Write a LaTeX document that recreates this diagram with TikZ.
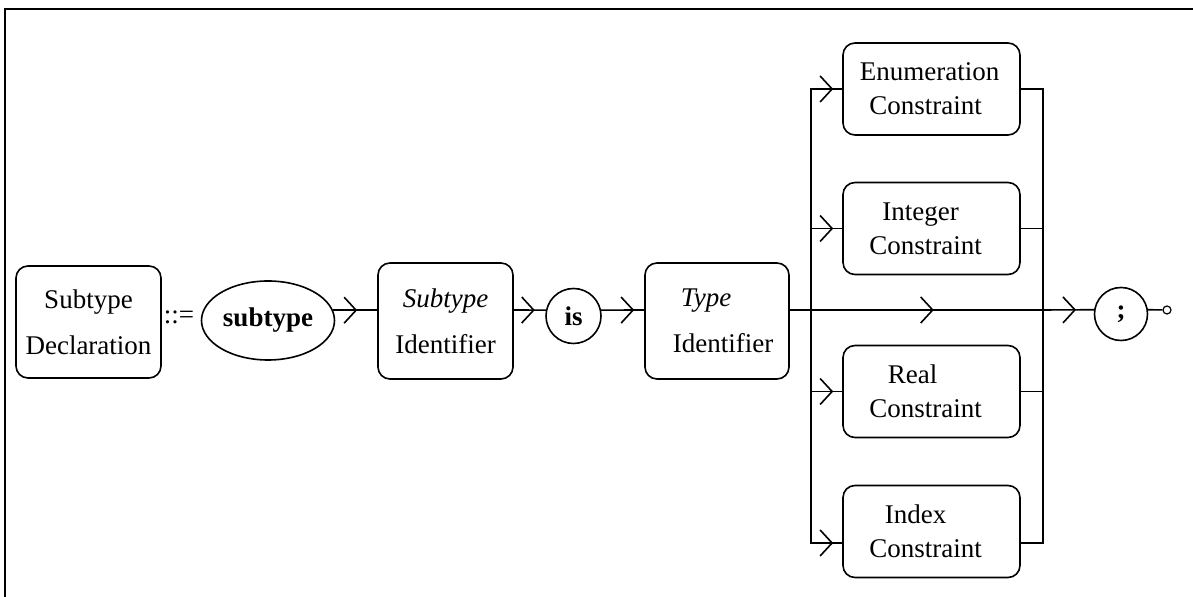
\documentclass[tikz,border=0pt]{standalone}
\usepackage{fontspec}
\setmainfont{Liberation Serif}
\usetikzlibrary{arrows.meta,decorations.markings,shapes.geometric}

\begin{document}
\begin{tikzpicture}[x=0.5pt,y=-0.5pt,line width=0.8pt,
    defbox/.style={draw, rounded corners=6pt, align=center, inner sep=0pt, font=\fontsize{13.5}{23}\selectfont},
    consbox/.style={draw, rounded corners=6pt, align=center, inner sep=0pt, minimum width=88.5pt, minimum height=46pt, font=\fontsize{13.5}{17}\selectfont},
    keynode/.style={draw, ellipse, inner sep=0pt, minimum width=66.5pt, minimum height=39.5pt, font=\fontsize{13.5}{16}\selectfont},
    roundnode/.style={draw, circle, inner sep=0pt, font=\fontsize{13.5}{16}\selectfont},
    exitnode/.style={draw, circle, inner sep=0pt, minimum size=4pt, line width=0.6pt}]
            \useasboundingbox (0,0) rectangle (1193,597);
            \draw[line width=1pt] (5,597) -- (5,9) -- (1193,9);

            \coordinate (spine) at (0,310);
            \coordinate (split) at (811,310);
            \coordinate (join) at (1043,310);

            \node[defbox, minimum width=72.5pt, minimum height=56pt] (decl) at (88.5,322) {Subtype\\Declaration};
            \node[font=\fontsize{13.5}{16}\selectfont] (defsym) at (179,317) {::=};
            \node[keynode] (kw) at (268,320.5) {\textbf{subtype}};
            \node[defbox, minimum width=67.5pt, minimum height=58pt] (subid) at (445.5,321) {\textit{Subtype}\\Identifier};
            \node[roundnode, minimum size=27.5pt] (is) at (573.5,316) {\textbf{is}};
            \node[defbox, minimum width=72pt, minimum height=58pt] (typeid) at (717,321) {\textit{Type}\hspace*{11pt}\\\hspace*{6pt}Identifier};
            \node[consbox] (enum) at (931.5,89) {Enumeration\hspace*{2pt}\\Constraint\hspace*{6pt}};
            \node[consbox] (int) at (931.5,228.5) {Integer\hspace*{11pt}\\Constraint\hspace*{6pt}};
            \node[consbox] (real) at (931.5,391.5) {Real\hspace*{19pt}\\Constraint\hspace*{6pt}};
            \node[consbox] (index) at (931.5,531.5) {Index\hspace*{16pt}\\Constraint\hspace*{6pt}};
            \node[roundnode, minimum size=26.5pt] (semi) at (1121,314) {\textbf{;}};
            \node[exitnode] (exit) at (1167,310) {};

            \tikzset{flow/.style={postaction={decorate}, decoration={markings, mark=at position #1 with {\arrow{Straight Barb[length=6pt,width=13pt]}}}}}

            \draw[flow=-10pt] (kw.9) -- (kw.9 -| subid.west);
            \draw[flow=-5.5pt] (subid.east |- spine) -- (is.168);
            \draw[flow=-5pt] (is.12) -- (typeid.west |- spine);
            \draw[flow=72pt] (typeid.east |- spine) -- (join);
            \draw[flow=-9pt] (join) -- (semi.171);
            \draw (semi.9) -- (exit);

            \draw[flow=-4.5pt] (split) |- (enum.west);
            \draw[flow=-4.5pt] (split) |- (int.west);
            \draw[flow=-4.5pt] (split) |- (real.west);
            \draw[flow=-4.5pt] (split) |- ([yshift=-5.75pt]index.west);
            \draw (enum.east) -| (join);
            \draw (int.east) -| (join);
            \draw (real.east) -| (join);
            \draw ([yshift=-5.75pt]index.east) -| (join);

        \end{tikzpicture}
\end{document}
